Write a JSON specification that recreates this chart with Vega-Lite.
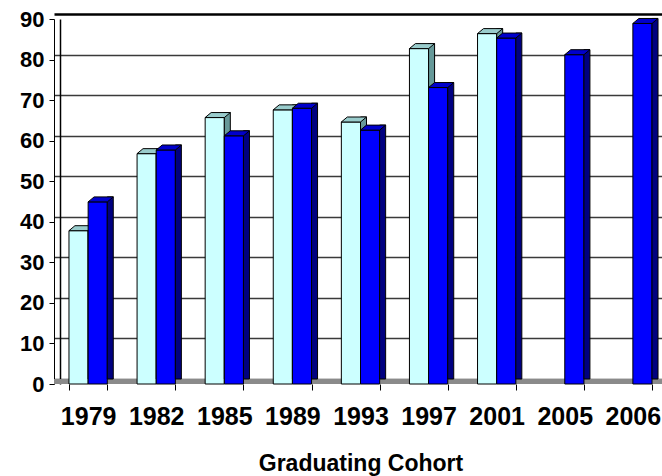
{
  "$schema": "https://vega.github.io/schema/vega-lite/v6.json",
  "width": 608,
  "height": 365,
  "autosize": {"type": "none"},
  "padding": {"left": 54, "top": 19, "right": 0, "bottom": 92},
  "background": "#ffffff",
  "config": {"view": {"stroke": null}, "font": "Liberation Sans"},
  "data": {
    "values": [
      {"cohort": "1979", "series": "Series 1", "value": 37.8},
      {"cohort": "1979", "series": "Series 2", "value": 44.9},
      {"cohort": "1982", "series": "Series 1", "value": 56.8},
      {"cohort": "1982", "series": "Series 2", "value": 57.7},
      {"cohort": "1985", "series": "Series 1", "value": 65.7},
      {"cohort": "1985", "series": "Series 2", "value": 61.2},
      {"cohort": "1989", "series": "Series 1", "value": 67.6},
      {"cohort": "1989", "series": "Series 2", "value": 68.0},
      {"cohort": "1993", "series": "Series 1", "value": 64.6},
      {"cohort": "1993", "series": "Series 2", "value": 62.6},
      {"cohort": "1997", "series": "Series 1", "value": 82.7},
      {"cohort": "1997", "series": "Series 2", "value": 73.1},
      {"cohort": "2001", "series": "Series 1", "value": 86.4},
      {"cohort": "2001", "series": "Series 2", "value": 85.3},
      {"cohort": "2005", "series": "Series 2", "value": 81.2},
      {"cohort": "2006", "series": "Series 2", "value": 88.9}
    ]
  },
  "resolve": {"axis": {"y": "independent"}},
  "layer": [
    {
      "description": "Back wall gridlines (shifted for depth) and the grey floor strip",
      "mark": {"type": "rule", "color": "#8a8a8a", "strokeWidth": 5, "yOffset": -2.5},
      "encoding": {
        "y": {
          "datum": 0,
          "type": "quantitative",
          "scale": {"domain": [0, 90], "nice": false},
          "axis": {
            "orient": "left",
            "values": [0, 10, 20, 30, 40, 50, 60, 70, 80, 90],
            "grid": true,
            "gridColor": {"condition": {"test": "datum.value >= 90", "value": "#000000"}, "value": "#3a3a3a"},
            "gridWidth": {"condition": {"test": "datum.value >= 90", "value": 2.5}, "value": 1.5},
            "tickOffset": -5,
            "offset": -6,
            "labels": false,
            "ticks": false,
            "domain": true,
            "domainColor": "#000000",
            "domainWidth": 1.5,
            "title": null
          }
        }
      }
    },
    {
      "description": "Light series: front faces, with the axes",
      "transform": [{"filter": "datum.series === 'Series 1'"}],
      "mark": {"type": "bar", "fill": "#CCFFFF", "stroke": "#000000", "strokeWidth": 1},
      "encoding": {
        "x": {
          "field": "cohort",
          "type": "ordinal",
          "sort": null,
          "scale": {"range": [0, 613], "paddingInner": 0.4375, "paddingOuter": 0.22},
          "axis": {
            "orient": "bottom",
            "labelAngle": 0,
            "domain": false,
            "grid": false,
            "ticks": true,
            "tickBand": "extent",
            "tickSize": 6,
            "tickColor": "#000000",
            "labelFontSize": 25,
            "labelFontWeight": "bold",
            "labelColor": "#000000",
            "labelPadding": 14,
            "title": "Graduating Cohort",
            "titleFontSize": 23,
            "titleFontWeight": "bold",
            "titleColor": "#000000",
            "titlePadding": 23
          }
        },
        "xOffset": {"field": "series", "type": "nominal", "scale": {"domain": ["Series 1", "Series 2"], "paddingInner": 0, "paddingOuter": 0}},
        "y": {
          "field": "value",
          "type": "quantitative",
          "scale": {"domain": [0, 90], "nice": false},
          "axis": {
            "orient": "left",
            "values": [0, 10, 20, 30, 40, 50, 60, 70, 80, 90],
            "grid": false,
            "domain": true,
            "domainColor": "#000000",
            "domainWidth": 1,
            "ticks": true,
            "tickSize": 5,
            "tickColor": "#000000",
            "labelFontSize": 22,
            "labelFontWeight": "bold",
            "labelColor": "#000000",
            "labelPadding": 5,
            "title": null
          }
        }
      }
    },
    {
      "description": "Light series: right side faces",
      "transform": [{"filter": "datum.series === 'Series 1'"}],
      "mark": {"type": "bar", "width": 6, "xOffset": 3, "yOffset": -5, "fill": "#669999", "stroke": "#000000", "strokeWidth": 1},
      "encoding": {
        "x": {"field": "cohort", "type": "ordinal", "sort": null},
        "y": {"field": "value", "type": "quantitative", "axis": null}
      }
    },
    {
      "description": "Light series: top faces",
      "transform": [{"filter": "datum.series === 'Series 1'"}],
      "mark": {
        "type": "point",
        "shape": "M-9.6,0L-3.6,-5L15.6,-5L9.6,0Z",
        "size": 4,
        "filled": true,
        "opacity": 1,
        "fill": "#99CCCC",
        "stroke": "#000000",
        "strokeWidth": 1
      },
      "encoding": {
        "x": {"field": "cohort", "type": "ordinal", "sort": null},
        "xOffset": {"field": "series", "type": "nominal"},
        "y": {"field": "value", "type": "quantitative", "axis": null}
      }
    },
    {
      "description": "Dark series: front faces",
      "transform": [{"filter": "datum.series === 'Series 2'"}],
      "mark": {"type": "bar", "fill": "#0000FF", "stroke": "#000000", "strokeWidth": 1},
      "encoding": {
        "x": {"field": "cohort", "type": "ordinal", "sort": null},
        "xOffset": {"field": "series", "type": "nominal"},
        "y": {"field": "value", "type": "quantitative", "axis": null}
      }
    },
    {
      "description": "Dark series: right side faces",
      "transform": [{"filter": "datum.series === 'Series 2'"}],
      "mark": {"type": "bar", "width": 6, "xOffset": 22.15, "yOffset": -5, "fill": "#000080", "stroke": "#000000", "strokeWidth": 1},
      "encoding": {
        "x": {"field": "cohort", "type": "ordinal", "sort": null},
        "y": {"field": "value", "type": "quantitative", "axis": null}
      }
    },
    {
      "description": "Dark series: top faces",
      "transform": [{"filter": "datum.series === 'Series 2'"}],
      "mark": {
        "type": "point",
        "shape": "M-9.6,0L-3.6,-5L15.6,-5L9.6,0Z",
        "size": 4,
        "filled": true,
        "opacity": 1,
        "fill": "#0000CC",
        "stroke": "#000000",
        "strokeWidth": 1
      },
      "encoding": {
        "x": {"field": "cohort", "type": "ordinal", "sort": null},
        "xOffset": {"field": "series", "type": "nominal"},
        "y": {"field": "value", "type": "quantitative", "axis": null}
      }
    }
  ]
}
